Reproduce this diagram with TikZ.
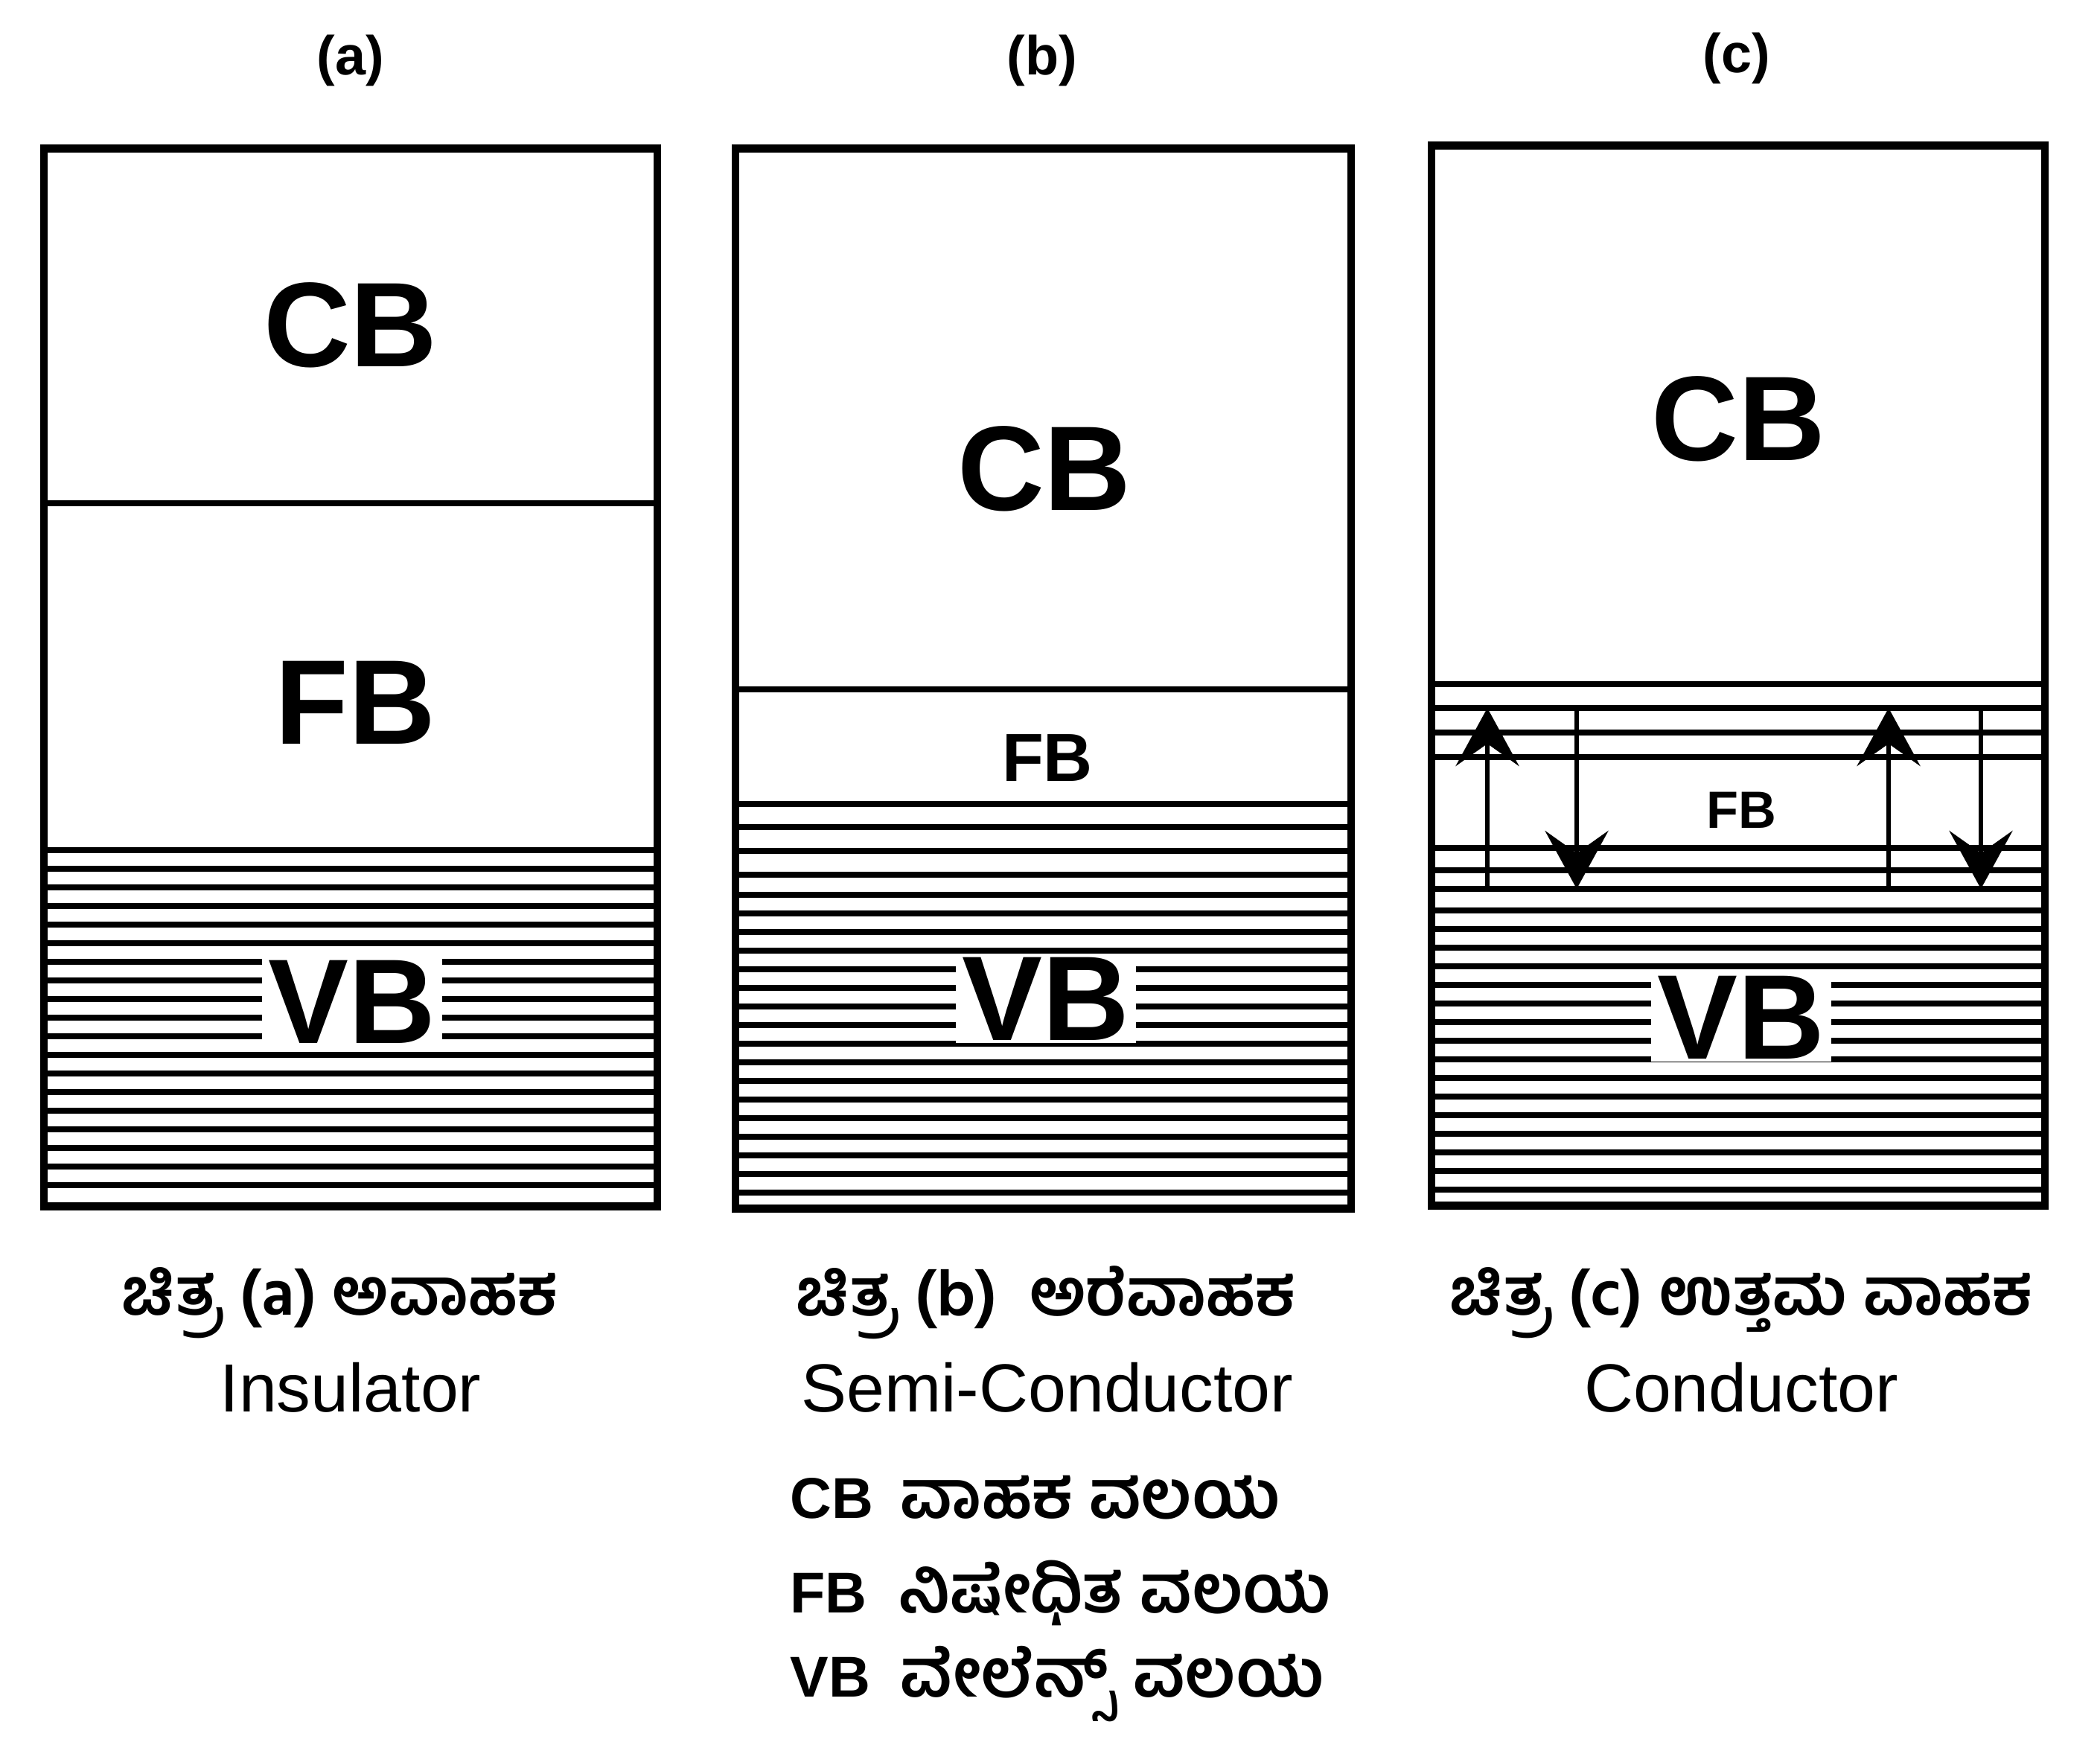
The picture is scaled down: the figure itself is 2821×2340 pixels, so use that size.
\documentclass[tikz,border=0pt]{standalone}
\usepackage{fontspec}
\setmainfont{Liberation Sans}
\newfontfamily\kan[Script=Kannada]{Hind Mysuru}
\usetikzlibrary{arrows.meta}
\begin{document}
\begin{tikzpicture}[x=0.01cm,y=-0.01cm,
  boxst/.style={draw, line width=2.9pt, inner sep=0pt, outer sep=0pt},
  divline/.style={line width=2.2pt},
  hatch/.style={line width=2.3pt},
  bigtxt/.style={font=\fontsize{46}{46}\selectfont\bfseries, inner sep=0pt},
  vbtxt/.style={bigtxt, fill=white, inner xsep=2.5pt, inner ysep=1pt},
  midtxt/.style={font=\fontsize{26}{26}\selectfont\bfseries, inner sep=0pt},
  smltxt/.style={font=\fontsize{20}{20}\selectfont\bfseries, inner sep=0pt},
  lbl/.style={font=\fontsize{21}{21}\selectfont\bfseries, inner sep=0pt},
  kcap/.style={font=\fontsize{25}{25}\selectfont\kan\bfseries, inner sep=0pt},
  ecap/.style={font=\fontsize{26}{26}\selectfont, inner sep=0pt},
  leg/.style={inner sep=0pt, anchor=west},
  arr/.style={line width=1.8pt, -{Stealth[length=0.78cm, width=0.85cm, inset=0.3cm]}}
]
\useasboundingbox (0,0) rectangle (2821,2340);

% titles
\node[lbl] (ta) at (471,81) {(a)};
\node[lbl] (tb) at (1400,81) {(b)};
\node[lbl] (tc) at (2333,78) {(c)};

% ---- box a
\foreach \y in {1142,1167,...,1600} \draw[hatch] (59,\y) -- (883,\y);
\draw[divline] (59,676) -- (883,676);
\node[boxst, minimum width=8.24cm, minimum height=14.2cm] (boxa) at (471,910) {};
\node[bigtxt] (cba) at (471,437) {CB};
\node[bigtxt] (fba) at (477,944) {FB};
\node[vbtxt] (vba) at (473,1346) {VB};

% ---- box b
\foreach \y in {1080,1111,1143,1175,1202,1227,...,1605} \draw[hatch] (988,\y) -- (1815,\y);
\draw[divline] (988,926) -- (1815,926);
\node[boxst, minimum width=8.27cm, minimum height=14.23cm] (boxb) at (1401.5,911.5) {};
\node[bigtxt] (cbb) at (1403,630) {CB};
\node[midtxt] (fbb) at (1407,1018) {FB};
\node[vbtxt] (vbb) at (1405,1342) {VB};

% ---- box c
\foreach \y in {919,951,984,1017,1139,1169,1194,1223,1248,...,1600} \draw[hatch] (1923,\y) -- (2747,\y);
\node[boxst, minimum width=8.24cm, minimum height=14.23cm] (boxc) at (2335,907.5) {};
\node[bigtxt] (cbc) at (2335,563) {CB};
\node[smltxt] (fbc) at (2339,1088) {FB};
\node[vbtxt] (vbc) at (2339,1367) {VB};

% arrows in c
\coordinate (u1s) at (1998,1194); \coordinate (u1e) at (1998,951);
\coordinate (d1s) at (2118,951);  \coordinate (d1e) at (2118,1194);
\coordinate (u2s) at (2537,1194); \coordinate (u2e) at (2537,951);
\coordinate (d2s) at (2661,951);  \coordinate (d2e) at (2661,1194);
\draw[arr] (u1s) -- (u1e);
\draw[arr] (d1s) -- (d1e);
\draw[arr] (u2s) -- (u2e);
\draw[arr] (d2s) -- (d2e);

% captions
\node[kcap] (ka) at (456,1750) {ಚಿತ್ರ (a) ಅವಾಹಕ};
\node[ecap] (ea) at (471,1864) {Insulator};
\node[kcap] (kb) at (1405,1750) {ಚಿತ್ರ (b)\ \ ಅರೆವಾಹಕ};
\node[ecap] (eb) at (1407,1864) {Semi-Conductor};
\node[kcap] (kc) at (2339,1750) {ಚಿತ್ರ (c) ಉತ್ತಮ ವಾಹಕ};
\node[ecap] (ec) at (2339,1864) {Conductor};

% legend
\node[leg] (lcb) at (1061,2012) {\fontsize{22}{22}\selectfont\bfseries\makebox[1.48cm][l]{CB}\fontsize{25.5}{25.5}\selectfont\kan ವಾಹಕ ವಲಯ};
\node[leg] (lfb) at (1061,2140) {\fontsize{22}{22}\selectfont\bfseries\makebox[1.46cm][l]{FB}\fontsize{25.5}{25.5}\selectfont\kan ನಿಷೇಧಿತ ವಲಯ};
\node[leg] (lvb) at (1061,2262) {\fontsize{22}{22}\selectfont\bfseries\makebox[1.48cm][l]{VB}\fontsize{25.5}{25.5}\selectfont\kan ವೇಲೆನ್ಸ್ ವಲಯ};
\end{tikzpicture}
\end{document}
